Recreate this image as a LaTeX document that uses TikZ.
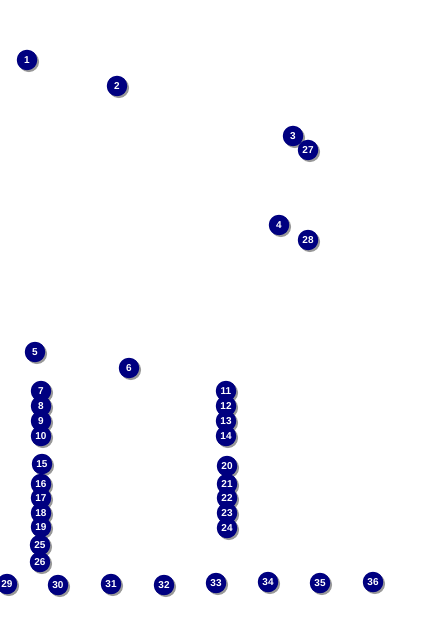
\documentclass[tikz,border=0pt]{standalone}
\usepackage{fontspec}
\setmainfont{Liberation Sans}
\begin{document}
\begin{tikzpicture}[x=1pt,y=-1pt,
  marker/.style={circle,fill={rgb,255:red,0;green,0;blue,128},text=white,minimum size=20.5pt,inner sep=0pt,
    font=\fontsize{10}{10}\selectfont\bfseries},
  shade/.style={circle,fill=black!40,minimum size=20.5pt,inner sep=0pt}]
\useasboundingbox[fill=white] (0,0) rectangle (424,636);
\foreach \n/\x/\y in {1/27/60,2/117/86,3/293/136,27/308/150,4/279/225,28/308/240,
  5/35/352,6/129/368,7/41/391,8/41/406,9/41/421,10/41/436,
  11/226/391,12/226/406,13/226/421,14/226/436,
  15/42/464,16/41/484,17/41/498,18/41/513,19/41/527,25/40/545,26/40/562,
  20/227/466,21/227/484,22/227/498,23/227/513,24/227/528,
  29/7/584,30/58/585,31/111/584,32/164/585,33/216/583,34/268/582,35/320/583,36/373/582}{
  \node[shade] (s\n) at (\x+1.8,\y+1.8) {};
  \node[marker] (m\n) at (\x,\y) {\n};
}
\end{tikzpicture}
\end{document}
